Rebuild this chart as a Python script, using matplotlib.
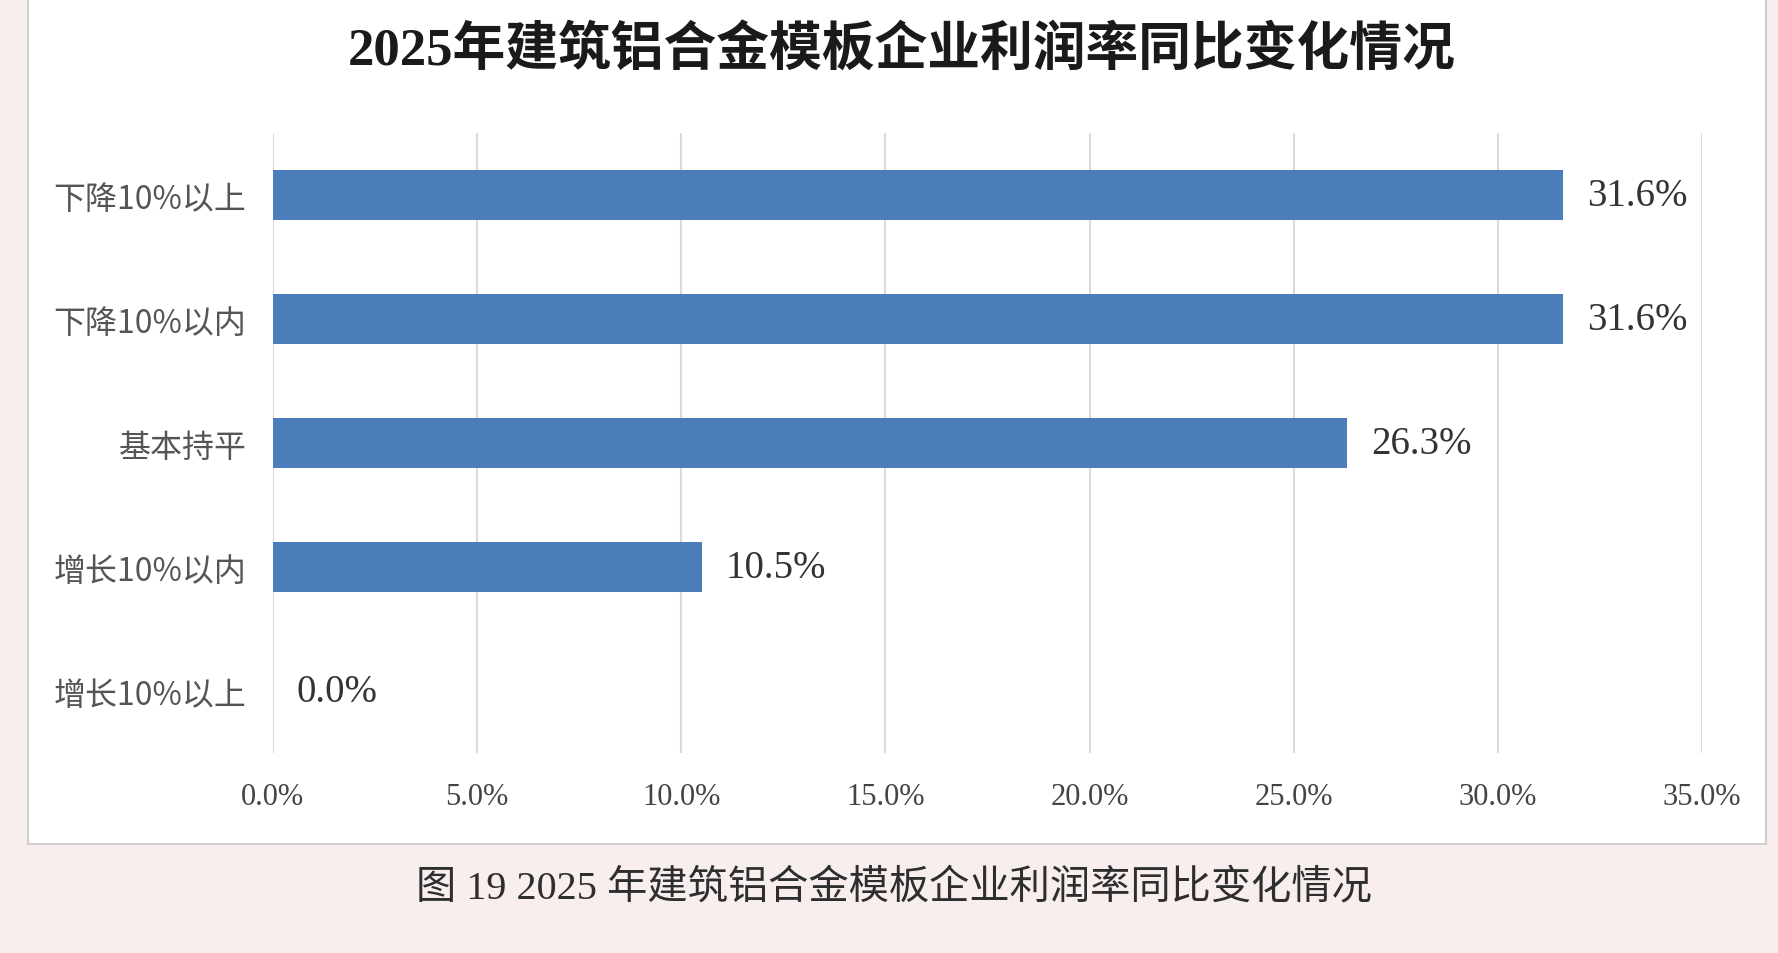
import matplotlib
matplotlib.use("Agg")
import matplotlib.pyplot as plt
from matplotlib.patches import Rectangle

categories = ["下降10%以上", "下降10%以内", "基本持平", "增长10%以内", "增长10%以上"]
values = [31.6, 31.6, 26.3, 10.5, 0.0]
xticks = [0, 5, 10, 15, 20, 25, 30, 35]
title = "2025年建筑铝合金模板企业利润率同比变化情况"
caption = "图 19 2025 年建筑铝合金模板企业利润率同比变化情况"

SERIF_MIX = ["Liberation Serif", "Noto Sans CJK SC"]
SANS_CJK = ["Noto Sans CJK SC", "DejaVu Sans"]

fig = plt.figure(figsize=(17.78, 9.54), dpi=100)
fig.patch.set_facecolor("#f8eeee")

# white chart box
box = Rectangle((0.0157, 0.1143), 0.9775, 0.8857 + 0.01, transform=fig.transFigure,
                facecolor="white", edgecolor="#cfcfcf", linewidth=1.5, zorder=-5)
fig.patches.append(box)

ax = fig.add_axes([0.1535, 0.2096, 0.8038, 0.6499])
ax.set_zorder(2)
ax.patch.set_alpha(0)

y = list(range(len(categories)))
bars = ax.barh(y, values, height=0.41, color="#4a7dba", zorder=3)
ax.set_ylim(len(categories) - 0.5, -0.5)
ax.set_xlim(0, 35)
ax.set_xticks(xticks)
ax.set_xticklabels([f"{v:.1f}%" for v in xticks], family=SERIF_MIX, fontsize=22,
                   color="#444444")
ax.set_yticks(y)
ax.set_yticklabels(categories, family=SANS_CJK, fontsize=23, color="#555555")
ax.tick_params(axis="x", length=0, pad=21)
ax.tick_params(axis="y", length=0, pad=19)
ax.grid(axis="x", color="#dadada", linewidth=1.5, zorder=0)
ax.set_axisbelow(True)
for s in ax.spines.values():
    s.set_visible(False)

for rect, v in zip(bars, values):
    ax.annotate(f"{v:.1f}%", xy=(v, rect.get_y() + rect.get_height() / 2),
                xytext=(24, 0), textcoords="offset pixels", va="center", ha="left",
                family=SERIF_MIX, fontsize=28, color="#333333")

fig.text(0.507, 0.9465, title, ha="center", va="center", family=SERIF_MIX,
         fontsize=38, fontweight="bold", color="#1a1a1a")
fig.text(0.503, 0.0692, caption, ha="center", va="center", family=SERIF_MIX,
         fontsize=29, color="#2e2e2e", fontweight="medium")

fig.savefig("out.png", dpi=100, facecolor=fig.get_facecolor())
